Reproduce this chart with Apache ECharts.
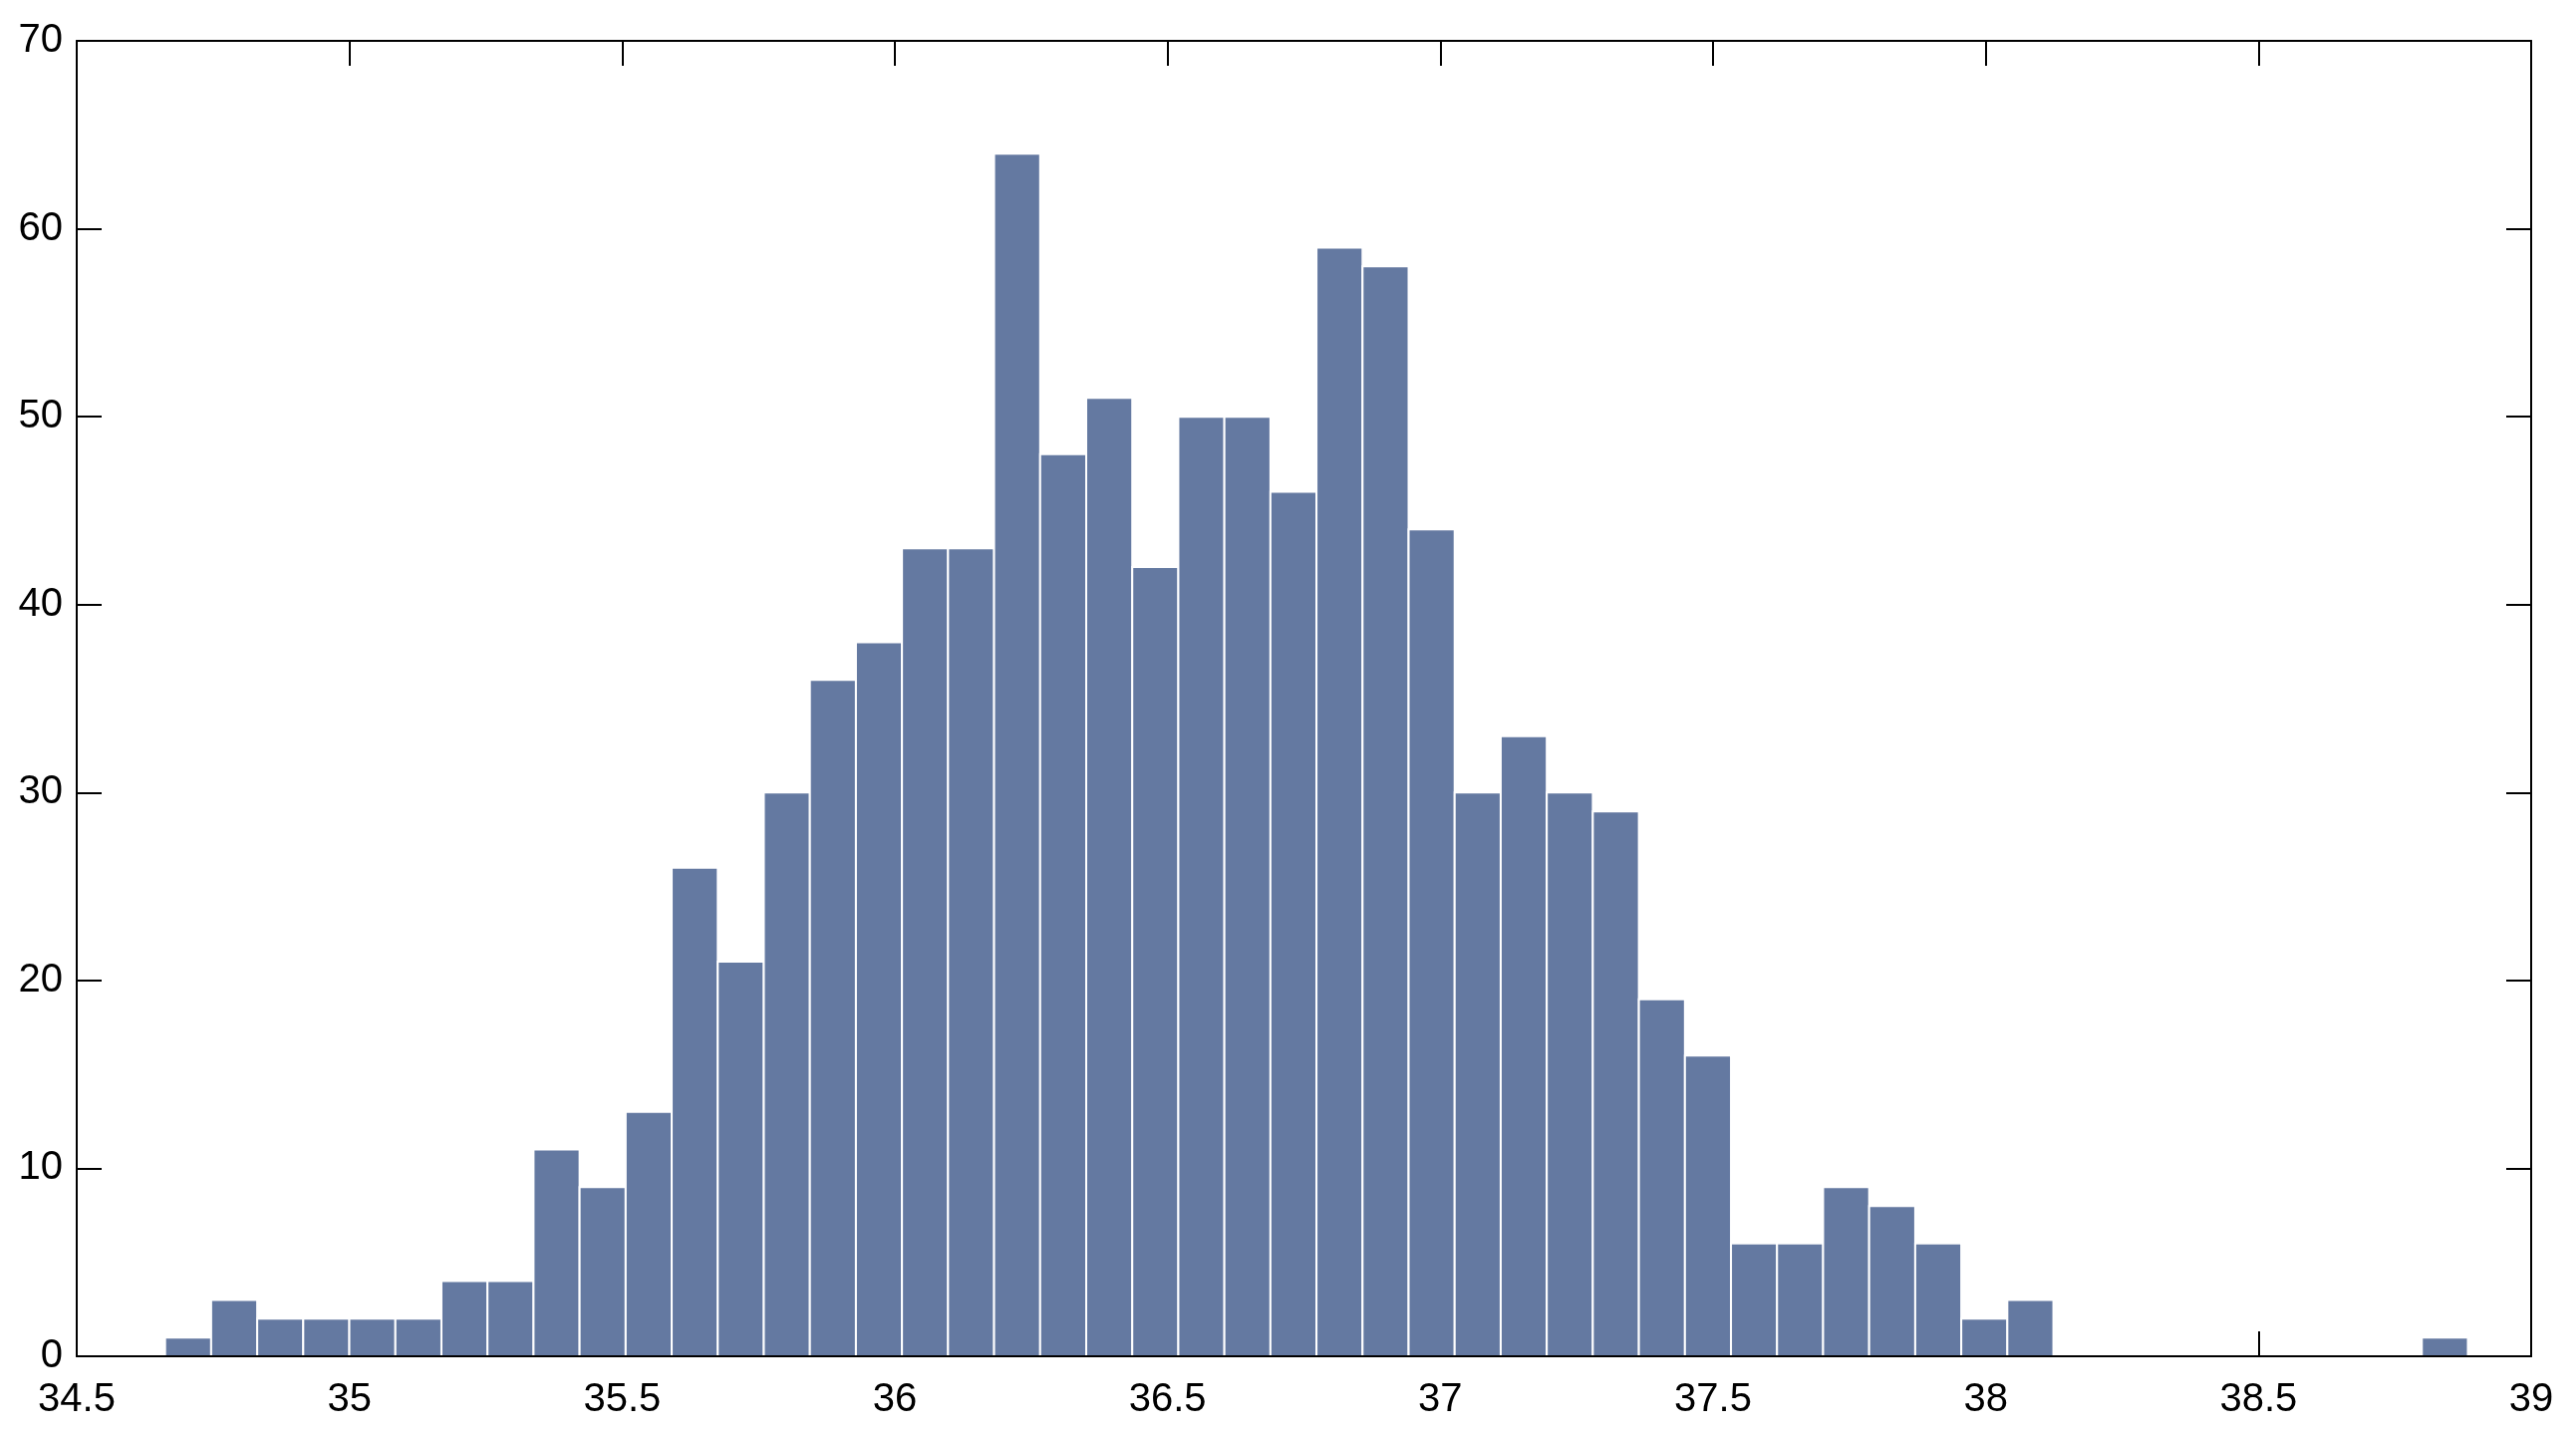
<!DOCTYPE html>
<html>
<head>
<meta charset="utf-8">
<script src="https://cdn.jsdelivr.net/npm/echarts@6/dist/echarts.min.js"></script>
<style>
html, body { margin: 0; padding: 0; background: #fff; }
#chart { width: 2585px; height: 1440px; }
</style>
</head>
<body>
<div id="chart"></div>
<script>
// histogram bins: first edge, width, counts
const binStart = 34.662
const binWidth = 0.08444
const counts = [1, 3, 2, 2, 2, 2, 4, 4, 11, 9, 13, 26, 21, 30, 36, 38, 43, 43, 64, 48,
  51, 42, 50, 50, 46, 59, 58, 44, 30, 33, 30, 29, 19, 16, 6, 6, 9, 8, 6, 2,
  3, 0, 0, 0, 0, 0, 0, 0, 0, 1]
const xTicks = [34.5, 35, 35.5, 36, 36.5, 37, 37.5, 38, 38.5, 39]
const yTicks = [0, 10, 20, 30, 40, 50, 60, 70]

const bins = counts.map((c, i) => [binStart + i * binWidth, binStart + (i + 1) * binWidth, c])

const chart = echarts.init(document.getElementById('chart'))

const axisFont = { color: '#000', fontSize: 40, fontFamily: 'Liberation Sans, Arial, sans-serif' }
const line = { show: true, onZero: false, lineStyle: { color: '#000', width: 2 } }
const tick = { show: true, inside: true, length: 25, lineStyle: { color: '#000', width: 2 } }

function xAx (pos, labels) {
  return {
    type: 'value',
    position: pos,
    min: xTicks[0],
    max: xTicks[xTicks.length - 1],
    interval: 0.5,
    axisLine: line,
    axisTick: tick,
    splitLine: { show: false },
    axisLabel: labels ? Object.assign({ margin: 24 }, axisFont) : { show: false }
  }
}
function yAx (pos, labels) {
  return {
    type: 'value',
    position: pos,
    min: yTicks[0],
    max: yTicks[yTicks.length - 1],
    interval: 10,
    axisLine: line,
    axisTick: tick,
    splitLine: { show: false },
    axisLabel: labels ? Object.assign({ margin: 14 }, axisFont) : { show: false }
  }
}

// bottom line drawn again above the bars, ticks stay under them
const xLineOnTop = xAx('bottom', false)
xLineOnTop.axisTick = { show: false }
xLineOnTop.z = 20

chart.setOption({
  animation: false,
  grid: { left: 77, right: 45, top: 41, bottom: 79 },
  xAxis: [xAx('bottom', true), xAx('top', false), xLineOnTop],
  yAxis: [yAx('left', true), yAx('right', false)],
  series: [{
    type: 'custom',
    z: 10,
    xAxisIndex: 0,
    yAxisIndex: 0,
    data: bins,
    encode: { x: [0, 1], y: 2 },
    renderItem: function (params, api) {
      if (api.value(2) === 0) return null
      const p0 = api.coord([api.value(0), api.value(2)])
      const p1 = api.coord([api.value(1), 0])
      return {
        type: 'rect',
        shape: { x: p0[0], y: p0[1], width: p1[0] - p0[0], height: p1[1] - p0[1] },
        style: { fill: '#6479a1', stroke: '#fff', lineWidth: 2 }
      }
    }
  }]
})
</script>
</body>
</html>
